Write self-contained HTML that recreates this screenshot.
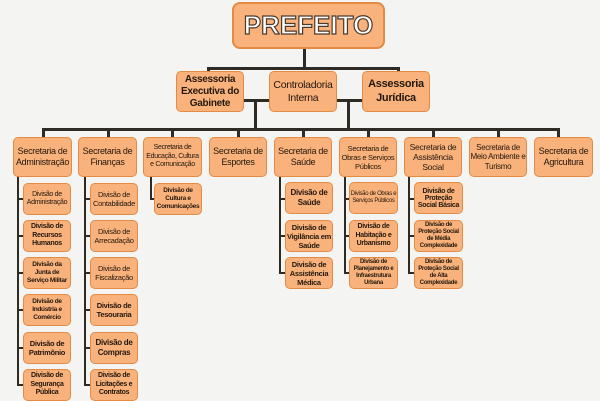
<!DOCTYPE html>
<html><head><meta charset="utf-8"><style>
body{margin:0;width:600px;height:400px;background:#f4f4f3;position:relative;overflow:hidden;font-family:"Liberation Sans",sans-serif}
.b{position:absolute;box-sizing:border-box;background:#f9b27c;border:1.5px solid #e38a44;border-radius:5px;display:flex;align-items:center;justify-content:center;text-align:center;color:#24180c;line-height:1.2;letter-spacing:-0.3px}
.l{position:absolute;background:#2e2a24}
.s{font-size:9px}
.d{font-size:7px;font-weight:bold}
</style></head><body>
<div class="l" style="left:303px;top:48px;width:3px;height:22px"></div>
<div class="l" style="left:207px;top:67px;width:193px;height:3px"></div>
<div class="l" style="left:207px;top:67px;width:3px;height:6px"></div>
<div class="l" style="left:397px;top:67px;width:3px;height:6px"></div>
<div class="l" style="left:242px;top:99px;width:28px;height:3px"></div>
<div class="l" style="left:335px;top:99px;width:28px;height:3px"></div>
<div class="l" style="left:254px;top:99px;width:3px;height:31px"></div>
<div class="l" style="left:347px;top:99px;width:3px;height:31px"></div>
<div class="l" style="left:42px;top:128px;width:518px;height:3px"></div>
<div class="l" style="left:42px;top:128px;width:3px;height:10px"></div>
<div class="l" style="left:107px;top:128px;width:3px;height:10px"></div>
<div class="l" style="left:171px;top:128px;width:3px;height:10px"></div>
<div class="l" style="left:237px;top:128px;width:3px;height:10px"></div>
<div class="l" style="left:302px;top:128px;width:3px;height:10px"></div>
<div class="l" style="left:367px;top:128px;width:3px;height:10px"></div>
<div class="l" style="left:432px;top:128px;width:3px;height:10px"></div>
<div class="l" style="left:497px;top:128px;width:3px;height:10px"></div>
<div class="l" style="left:557px;top:128px;width:3px;height:10px"></div>
<div class="l" style="left:17px;top:176px;width:2px;height:210px"></div>
<div class="l" style="left:84px;top:176px;width:2px;height:210px"></div>
<div class="l" style="left:150px;top:176px;width:2px;height:24px"></div>
<div class="l" style="left:279px;top:176px;width:2px;height:98px"></div>
<div class="l" style="left:344px;top:176px;width:2px;height:98px"></div>
<div class="l" style="left:408px;top:176px;width:2px;height:98px"></div>
<div class="l" style="left:17px;top:198px;width:7px;height:2px"></div>
<div class="l" style="left:17px;top:235px;width:7px;height:2px"></div>
<div class="l" style="left:17px;top:272px;width:7px;height:2px"></div>
<div class="l" style="left:17px;top:309px;width:7px;height:2px"></div>
<div class="l" style="left:17px;top:347px;width:7px;height:2px"></div>
<div class="l" style="left:17px;top:384px;width:7px;height:2px"></div>
<div class="l" style="left:84px;top:198px;width:7px;height:2px"></div>
<div class="l" style="left:84px;top:235px;width:7px;height:2px"></div>
<div class="l" style="left:84px;top:272px;width:7px;height:2px"></div>
<div class="l" style="left:84px;top:309px;width:7px;height:2px"></div>
<div class="l" style="left:84px;top:347px;width:7px;height:2px"></div>
<div class="l" style="left:84px;top:384px;width:7px;height:2px"></div>
<div class="l" style="left:150px;top:198px;width:5px;height:2px"></div>
<div class="l" style="left:279px;top:198px;width:7px;height:2px"></div>
<div class="l" style="left:279px;top:235px;width:7px;height:2px"></div>
<div class="l" style="left:279px;top:272px;width:7px;height:2px"></div>
<div class="l" style="left:344px;top:198px;width:6px;height:2px"></div>
<div class="l" style="left:344px;top:235px;width:6px;height:2px"></div>
<div class="l" style="left:344px;top:272px;width:6px;height:2px"></div>
<div class="l" style="left:408px;top:198px;width:7px;height:2px"></div>
<div class="l" style="left:408px;top:235px;width:7px;height:2px"></div>
<div class="l" style="left:408px;top:272px;width:7px;height:2px"></div>
<div class="b" style="left:232px;top:2px;width:153px;height:47px;border-width:2px;border-radius:8px;font-size:26px;font-weight:bold;color:#fff;-webkit-text-stroke:1.2px #4a3a2c;letter-spacing:0">PREFEITO</div>
<div class="b" style="left:176px;top:71px;width:68px;height:41px;font-size:10px;font-weight:bold">Assessoria Executiva do Gabinete</div>
<div class="b" style="left:269px;top:71px;width:68px;height:41px;font-size:10.5px">Controladoria Interna</div>
<div class="b" style="left:362px;top:71px;width:68px;height:41px;font-size:11px;font-weight:bold">Assessoria Jurídica</div>
<div class="b s" style="left:13px;top:137px;width:59px;height:40px">Secretaria de Administração</div>
<div class="b s" style="left:78px;top:137px;width:59px;height:40px">Secretaria de Finanças</div>
<div class="b" style="left:143px;top:137px;width:59px;height:40px;font-size:7px">Secretaria de Educação, Cultura e Comunicação</div>
<div class="b s" style="left:209px;top:137px;width:58px;height:40px">Secretaria de Esportes</div>
<div class="b s" style="left:274px;top:137px;width:58px;height:40px">Secretaria de Saúde</div>
<div class="b" style="left:339px;top:137px;width:58px;height:40px;font-size:7.5px">Secretaria de Obras e Serviços Públicos</div>
<div class="b" style="left:404px;top:137px;width:58px;height:40px;font-size:8.5px">Secretaria de Assistência Social</div>
<div class="b" style="left:469px;top:137px;width:58px;height:40px;font-size:8px">Secretaria de Meio Ambiente e Turismo</div>
<div class="b s" style="left:534px;top:137px;width:59px;height:40px">Secretaria de Agricultura</div>
<div class="b d" style="left:23px;top:183px;width:48px;height:32px;font-weight:normal">Divisão de Administração</div>
<div class="b d" style="left:23px;top:220px;width:48px;height:32px">Divisão de Recursos Humanos</div>
<div class="b d" style="left:23px;top:257px;width:48px;height:32px;font-size:6.5px">Divisão da Junta de Serviço Militar</div>
<div class="b d" style="left:23px;top:294px;width:48px;height:32px;font-size:6.5px">Divisão de Indústria e Comércio</div>
<div class="b d" style="left:23px;top:332px;width:48px;height:32px;font-size:7.5px">Divisão de Patrimônio</div>
<div class="b d" style="left:23px;top:369px;width:48px;height:32px">Divisão de Segurança Pública</div>
<div class="b d" style="left:90px;top:183px;width:48px;height:32px;font-weight:normal;font-size:7.5px">Divisão de Contabilidade</div>
<div class="b d" style="left:90px;top:220px;width:48px;height:32px;font-weight:normal;font-size:7.5px">Divisão de Arrecadação</div>
<div class="b d" style="left:90px;top:257px;width:48px;height:32px;font-weight:normal;font-size:7.5px">Divisão de Fiscalização</div>
<div class="b d" style="left:90px;top:294px;width:48px;height:32px;font-size:7.5px">Divisão de Tesouraria</div>
<div class="b d" style="left:90px;top:332px;width:48px;height:32px;font-size:8px">Divisão de Compras</div>
<div class="b d" style="left:90px;top:369px;width:48px;height:32px">Divisão de Licitações e Contratos</div>
<div class="b d" style="left:154px;top:183px;width:48px;height:32px;font-size:6.5px">Divisão de Cultura e Comunicações</div>
<div class="b d" style="left:285px;top:182px;width:48px;height:32px;font-size:8px">Divisão de Saúde</div>
<div class="b d" style="left:285px;top:220px;width:48px;height:32px;font-size:7.5px">Divisão de Vigilância em Saúde</div>
<div class="b d" style="left:285px;top:257px;width:48px;height:32px;font-size:7.5px">Divisão de Assistência Médica</div>
<div class="b d" style="left:349px;top:182px;width:49px;height:32px;font-weight:normal;font-size:6px">Divisão de Obras e Serviços Públicos</div>
<div class="b d" style="left:349px;top:220px;width:49px;height:32px;font-size:7px">Divisão de Habitação e Urbanismo</div>
<div class="b d" style="left:349px;top:257px;width:49px;height:32px;font-size:6px">Divisão de Planejamento e Infraestrutura Urbana</div>
<div class="b d" style="left:414px;top:182px;width:49px;height:32px;font-size:7px;line-height:1">Divisão de Proteção Social Básica</div>
<div class="b d" style="left:414px;top:220px;width:49px;height:32px;font-size:6px">Divisão de Proteção Social de Média Complexidade</div>
<div class="b d" style="left:414px;top:257px;width:49px;height:32px;font-size:6px">Divisão de Proteção Social de Alta Complexidade</div>
</body></html>
